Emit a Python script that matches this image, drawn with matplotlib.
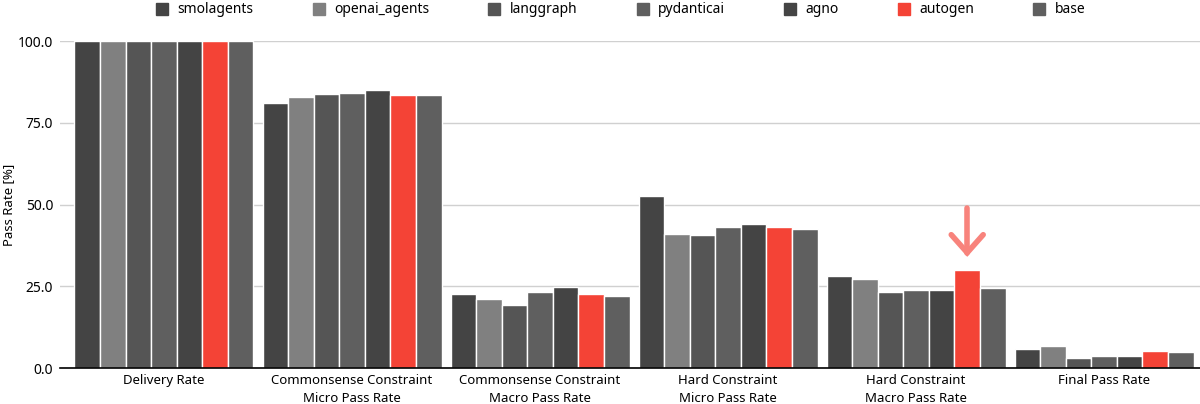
import matplotlib
matplotlib.use("Agg")
import matplotlib.pyplot as plt
from matplotlib.lines import Line2D
import numpy as np

plt.rcParams['font.family'] = ['Noto Sans', 'DejaVu Sans']

# データ
categories = ["Delivery Rate",
              "Commonsense Constraint\nMicro Pass Rate",
              "Commonsense Constraint\nMacro Pass Rate",
              "Hard Constraint\nMicro Pass Rate",
              "Hard Constraint\nMacro Pass Rate",
              "Final Pass Rate"]
frameworks = ["smolagents", "openai_agents", "langgraph", "pydanticai", "agno", "autogen", "base"]
colors = ["#444444", "#808080", "#555555", "#5f5f5f", "#444444", "#f44336", "#5f5f5f"]

smolagents = [100.0, 81.1, 22.7, 52.5, 28.2, 5.8]
openai_agents = [100.0, 82.9, 21.0, 41.1, 27.3, 6.6]
langgraph = [100.0, 83.8, 19.3, 40.6, 23.3, 3.1]
pydanticai = [100.0, 84.3, 23.3, 43.3, 24.0, 3.8]
agno = [100.0, 85.0, 24.8, 44.1, 24.0, 3.8]
autogen = [100.0, 83.4, 22.7, 43.3, 30.0, 5.3]
base = [100.0, 83.4, 22.1, 42.4, 24.5, 4.9]

series = [smolagents, openai_agents, langgraph, pydanticai, agno, autogen, base]

fig = plt.figure(figsize=(12, 4.04), dpi=100)
ax = fig.add_axes([0.05, 0.089, 0.95, 0.809])

x = np.arange(len(categories))
w = 0.136
for j, vals in enumerate(series):
    ax.bar(x + (j - 3) * w, vals, w, color=colors[j], edgecolor="white",
           linewidth=1.0, label=frameworks[j], zorder=3)

ax.set_xlim(-0.553, 5.51)
ax.set_ylim(0, 100)
ax.set_yticks([0, 25, 50, 75, 100])
ax.set_yticklabels(["0.0", "25.0", "50.0", "75.0", "100.0"], fontsize=10)
ax.set_xticks(x)
ax.set_xticklabels(categories, fontsize=9.5, linespacing=1.55)
ax.tick_params(axis="both", length=0, pad=4)
ax.tick_params(axis="y", pad=5)
ax.yaxis.grid(True, color="#d0d0d0", linewidth=1, zorder=0)
for s in ["left", "right", "top"]:
    ax.spines[s].set_visible(False)
ax.spines["bottom"].set_color("black")
ax.spines["bottom"].set_linewidth(1.2)
ax.spines["bottom"].set_zorder(4)

# y軸ラベル (図の左端に配置)
fig.text(0.002, 0.089 + 0.809 / 2, "Pass Rate [%]", rotation=90, fontsize=9.5,
         ha="left", va="center")

# 矢印 (autogen, Hard Constraint Macro)
ax_x = 4 + 2 * w
tip = autogen[4] + 5.3
ac = "#f8837c"
ax.plot([ax_x, ax_x], [tip + 13.6, tip], color=ac, lw=4, solid_capstyle="round", zorder=5)
ax.plot([ax_x - 0.085, ax_x, ax_x + 0.085], [tip + 5.5, tip, tip + 5.5], color=ac, lw=4,
        solid_capstyle="round", solid_joinstyle="miter", zorder=5)

handles = [Line2D([0], [0], marker="s", linestyle="", markersize=8, color=c) for c in colors]
fig.legend(handles, frameworks, loc="upper center", ncol=7, frameon=False,
           bbox_to_anchor=(0.5175, 1.025), fontsize=10, handlelength=0.8,
           handletextpad=0.7, columnspacing=4.3)

fig.savefig("out.png", dpi=100)
